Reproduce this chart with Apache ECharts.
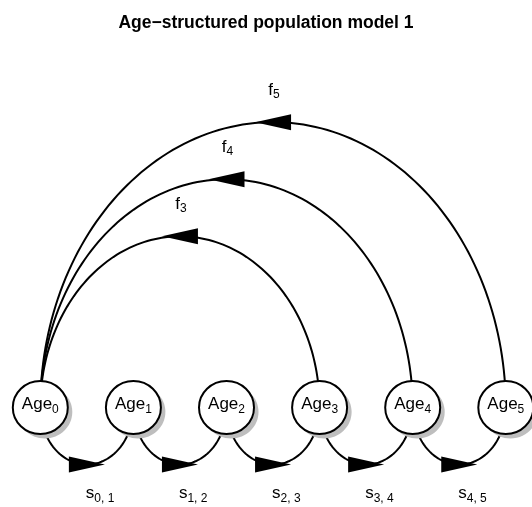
<!DOCTYPE html>
<html><head><meta charset="utf-8">
<script src="https://cdn.jsdelivr.net/npm/echarts@6/dist/echarts.min.js"></script>
<style>html,body{margin:0;padding:0;background:#fff}#c{width:532px;height:507px}</style>
</head><body><div id="c"></div>
<script>
// ---------------- data ----------------
const chartTitle = 'Age\u2212structured population model 1';
const nodeNames = ['Age', 'Age', 'Age', 'Age', 'Age', 'Age'];
const nodeSubs = ['0', '1', '2', '3', '4', '5'];
const nodePos = [0, 1, 2, 3, 4, 5];            // position of each age class along the row
// survival transitions s(i, i+1)
const survFrom = [0, 1, 2, 3, 4];
const survTo = [1, 2, 3, 4, 5];
const survSym = ['s', 's', 's', 's', 's'];
const survSub = ['0, 1', '1, 2', '2, 3', '3, 4', '4, 5'];
// fecundity transitions f(i) back to age 0
const fecFrom = [3, 4, 5];
const fecTo = [0, 0, 0];
const fecSym = ['f', 'f', 'f'];
const fecSub = ['3', '4', '5'];

// ---------------- styles ----------------
const FONT = '"Liberation Sans", Arial, Helvetica, sans-serif';
const MAIN_SIZE = 17, SUB_SIZE = 12, SUB_DROP = 3;
const ARC_RATIO = 1.226;       // vertical / horizontal radius of the curved arrows (px)
const AH_LEN = 36, AH_W = 16;  // arrowhead size
const NODE_RX = 27.5, NODE_RY = 26.5, SHADOW = 4.5;

const mctx = document.createElement('canvas').getContext('2d');
function tw(str, size, bold) { mctx.font = (bold ? 'bold ' : '') + size + 'px ' + FONT; return mctx.measureText(str).width; }
function txt(x, baseline, str, size, align) {
  return { type: 'text', x: x, y: baseline - 0.3465 * size,
    style: { text: str, fill: '#000', font: size + 'px ' + FONT, align: align || 'left', verticalAlign: 'middle' } };
}
// main text + subscript, anchored by 'left' or 'center'
function subText(x, baseline, main, sub, anchor) {
  const w1 = tw(main, MAIN_SIZE), w2 = tw(sub, SUB_SIZE);
  const left = anchor === 'center' ? x - (w1 + w2) / 2 : x;
  return [txt(left, baseline, main, MAIN_SIZE), txt(left + w1, baseline + SUB_DROP, sub, SUB_SIZE)];
}

const edges = [];
survFrom.forEach((f, i) => edges.push([nodePos[f], nodePos[survTo[i]], 0, i]));
fecFrom.forEach((f, i) => edges.push([nodePos[f], nodePos[fecTo[i]], 1, i]));

function arcGeom(api) {
  const a = api.coord([api.value(0), 0]), b = api.coord([api.value(1), 0]);
  const cx = (a[0] + b[0]) / 2, cy = a[1];
  const rx = Math.abs(b[0] - a[0]) / 2, ry = ARC_RATIO * rx;
  const up = a[0] > b[0];
  const sgn = up ? -1 : 1;
  return { a, b, cx, cy, rx, ry, sgn, dir: Math.sign(b[0] - a[0]), peakY: cy + sgn * ry };
}

function renderEdge(params, api) {
  const g = arcGeom(api);
  const pts = [];
  const N = 120;
  for (let k = 0; k <= N; k++) {
    const th = Math.PI * k / N;
    pts.push([g.cx + g.rx * Math.cos(th), g.cy + g.sgn * g.ry * Math.sin(th)]);
  }
  const tip = [g.cx + g.dir * AH_LEN / 2, g.peakY];
  const b1 = [g.cx - g.dir * AH_LEN / 2, g.peakY - AH_W / 2];
  const b2 = [g.cx - g.dir * AH_LEN / 2, g.peakY + AH_W / 2];
  return { type: 'group', children: [
    { type: 'polyline', shape: { points: pts }, style: { stroke: '#000', lineWidth: 2, fill: null } },
    { type: 'polygon', shape: { points: [tip, b1, b2] }, style: { fill: '#000' } }
  ] };
}

function renderEdgeLabel(params, api) {
  const g = arcGeom(api);
  const kind = api.value(2), i = api.value(3);
  let children;
  if (kind === 0) children = subText(g.cx - 1, g.peakY + 35, survSym[i], survSub[i], 'left');
  else children = subText(g.cx + 1, g.peakY - 26, fecSym[i], fecSub[i], 'center');
  return { type: 'group', children: children };
}

function renderNode(params, api) {
  const c = api.coord([api.value(0), 0]);
  const i = api.value(2);
  return { type: 'group', children: [
    { type: 'ellipse', shape: { cx: c[0] + SHADOW, cy: c[1] + SHADOW, rx: NODE_RX, ry: NODE_RY }, style: { fill: '#bebebe' } },
    { type: 'ellipse', shape: { cx: c[0], cy: c[1], rx: NODE_RX, ry: NODE_RY }, style: { fill: '#fff', stroke: '#000', lineWidth: 2 } }
  ].concat(subText(c[0], c[1] + 3, nodeNames[i], nodeSubs[i], 'center')) };
}

const chart = echarts.init(document.getElementById('c'), null, { renderer: 'canvas' });
chart.setOption({
  animation: false,
  backgroundColor: '#fff',
  title: { text: chartTitle, left: 'center', top: 9,
    textStyle: { fontFamily: FONT, fontSize: 17.5, fontWeight: 'bold', color: '#000' } },
  grid: { left: 0, right: 0, top: 0, bottom: 0 },
  xAxis: { type: 'value', min: -40.3 / 93.1, max: (532 - 40.3) / 93.1, show: false },
  yAxis: { type: 'value', min: -(507 - 407.5) / 93.1, max: 407.5 / 93.1, show: false },
  series: [
    { type: 'custom', z: 1, renderItem: renderEdge, data: edges, silent: true },
    { type: 'custom', z: 2, renderItem: renderNode, data: nodePos.map((p, i) => [p, 0, i]), silent: true },
    { type: 'custom', z: 3, renderItem: renderEdgeLabel, data: edges, silent: true }
  ]
});
</script></body></html>
